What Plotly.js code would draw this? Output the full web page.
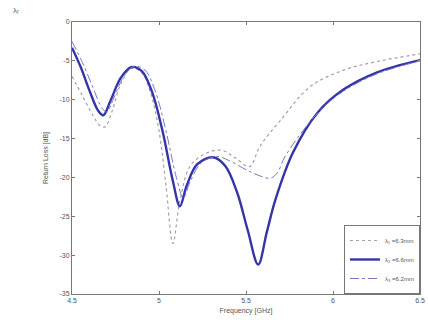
<!DOCTYPE html>
<html>
<head>
<meta charset="utf-8">
<script src="https://cdn.plot.ly/plotly-3.0.1.min.js"></script>
<style>html,body{margin:0;padding:0;background:#fff}#chart{width:428px;height:328px}</style>
</head>
<body>
<div id="chart"></div>
<script>
// Series 1 (gray dotted)
const freq1 = [4.5,4.56,4.62,4.66,4.69,4.73,4.78,4.84,4.9,4.95,5.0,5.04,5.08,5.12,5.18,5.27,5.36,5.44,5.52,5.58,5.7,5.87,6.06,6.25,6.5];
const rl1   = [-7,-9.5,-12,-13.3,-13.5,-11.5,-8,-6,-6.5,-9,-14,-21,-28.5,-23,-18.5,-16.9,-16.5,-17.5,-18.6,-16.0,-12.6,-8.3,-6.2,-5.1,-4.1];
// Series 2 (thick blue)
const freq2 = [4.5,4.55,4.6,4.65,4.68,4.72,4.78,4.84,4.9,4.96,5.02,5.08,5.12,5.16,5.22,5.31,5.38,5.45,5.51,5.57,5.62,5.67,5.77,5.91,6.06,6.25,6.5];
const rl2   = [-3.3,-5.8,-8.8,-11.4,-12,-10.2,-7.2,-5.8,-6.3,-9,-14,-20.5,-23.7,-21,-18.3,-17.4,-18.5,-22,-26.8,-31.2,-27,-22.8,-16.8,-11.7,-8.7,-6.5,-4.9];
// Series 3 (thin blue dash-dot)
const freq3 = [4.5,4.56,4.62,4.67,4.7,4.74,4.8,4.86,4.92,4.98,5.04,5.1,5.14,5.18,5.24,5.33,5.4,5.5,5.58,5.64,5.68,5.72,5.8,5.92,6.06,6.25,6.5];
const rl3   = [-2.5,-5.2,-8.4,-11,-11.6,-9.8,-6.9,-5.7,-6.2,-9,-14,-20,-22.6,-20.5,-18.2,-17.3,-17.8,-19,-19.8,-20.1,-19.4,-17.5,-14.8,-11.5,-8.9,-6.7,-5.0];

const names = ['λ₁ =6.3mm','λ₂ =6.6mm','λ₃ =6.2mm'];
const xTicks = [4.5,5,5.5,6,6.5];
const xTickText = ['4.5','5','5.5','6','6.5'];
const yTicks = [0,-5,-10,-15,-20,-25,-30,-35];
const yTickText = ['0','-5','-10','-15','-20','-25','-30','-35'];

const traces = [
  {x:freq1,y:rl1,name:names[0],mode:'lines',line:{color:'#a0a0a8',width:1.2,dash:'dot',shape:'spline'}},
  {x:freq2,y:rl2,name:names[1],mode:'lines',line:{color:'#3535a8',width:2.4,shape:'spline'}},
  {x:freq3,y:rl3,name:names[2],mode:'lines',line:{color:'#7878c8',width:1,dash:'dashdot',shape:'spline'}}
];

const fontFam = 'Liberation Sans, Arial';
const axisCommon = {showgrid:false,zeroline:false,showline:true,mirror:'ticks',linecolor:'#777',linewidth:1,
  ticks:'inside',ticklen:3,tickcolor:'#777',tickfont:{family:fontFam,size:7,color:'#555'}};

const layout = {
  width:428,height:328,
  margin:{l:72,r:8,t:22,b:34},
  paper_bgcolor:'#fff',plot_bgcolor:'#fff',
  showlegend:true,
  legend:{x:1,xanchor:'right',y:0,yanchor:'bottom',bordercolor:'#777',borderwidth:1,bgcolor:'#fff',
    font:{family:fontFam,size:6,color:'#555'},tracegroupgap:0,itemwidth:30},
  xaxis:Object.assign({},axisCommon,{range:[4.5,6.5],tickvals:xTicks,ticktext:xTickText,
    title:{text:'Frequency [GHz]',font:{family:fontFam,size:7,color:'#555'},standoff:4}}),
  yaxis:Object.assign({},axisCommon,{range:[-35,0],tickvals:yTicks,ticktext:yTickText,
    title:{text:'Return Loss [dB]',font:{family:fontFam,size:7,color:'#555'},standoff:10}}),
  annotations:[{text:'λᵣ',xref:'paper',yref:'paper',x:-0.175,y:1.065,xanchor:'left',yanchor:'top',showarrow:false,
    font:{family:fontFam,size:8,color:'#666'}}]
};

Plotly.newPlot('chart',traces,layout,{displayModeBar:false,staticPlot:true});
</script>
</body>
</html>
